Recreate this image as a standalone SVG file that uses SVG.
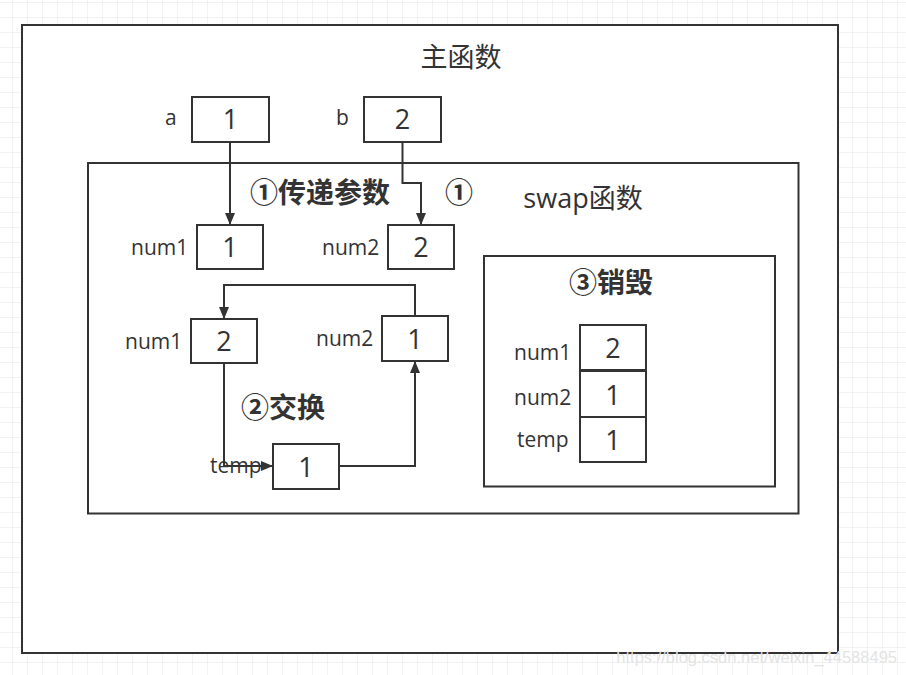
<svg xmlns="http://www.w3.org/2000/svg" width="906" height="675" viewBox="0 0 906 675">
<defs>
<pattern id="grid" x="12" y="2" width="15" height="15" patternUnits="userSpaceOnUse">
<path d="M0 0H15M0 0V15" fill="none" stroke="#e6e6e6" stroke-width="1"/>
</pattern>
<marker id="arr" viewBox="0 0 12 10" refX="11" refY="5" markerWidth="12" markerHeight="10" markerUnits="userSpaceOnUse" orient="auto">
<path d="M0 0L12 5L0 10Z" fill="#333"/>
</marker>
<style>
.box{fill:#fff;stroke:#333;stroke-width:2}
.con{fill:none;stroke:#333;stroke-width:2;marker-end:url(#arr)}
.lbl{font-family:"Open Sans","Noto Sans CJK SC",sans-serif;font-size:21px;fill:#333}
.val{font-family:"Open Sans","Noto Sans CJK SC",sans-serif;font-size:27px;fill:#333;text-anchor:middle}
.title{font-family:"Open Sans","Noto Sans CJK SC",sans-serif;font-size:27px;fill:#333;text-anchor:middle}
.step{font-family:"Noto Sans CJK SC",sans-serif;font-size:28px;font-weight:bold;fill:#333}
</style>
</defs>
<rect width="906" height="675" fill="#fff"/>
<rect width="906" height="675" fill="url(#grid)"/>

<g id="main">
<rect class="box" x="22" y="25" width="816" height="628"/>
<text class="title" x="461" y="67">主函数</text>
</g>
<g id="a">
<text class="lbl" x="165" y="125">a</text>
<rect class="box" x="192" y="97" width="77" height="45"/>
<text class="val" x="230.5" y="129">1</text>
</g>
<g id="b">
<text class="lbl" x="336" y="125">b</text>
<rect class="box" x="364" y="97" width="77" height="45"/>
<text class="val" x="402.5" y="129">2</text>
</g>
<g id="swap">
<rect class="box" x="88" y="163" width="710.5" height="350.5"/>
<text class="title" x="583" y="208">swap函数</text>
<text class="step" x="250" y="203">①传递参数</text>
<text class="step" x="445" y="203">①</text>
<text class="step" x="241" y="418">②交换</text>
</g>
<g id="num1a">
<text class="lbl" x="131" y="255">num1</text>
<rect class="box" x="197" y="225" width="66" height="44"/>
<text class="val" x="230" y="257">1</text>
</g>
<g id="num2a">
<text class="lbl" x="322" y="255">num2</text>
<rect class="box" x="388" y="225" width="66" height="44"/>
<text class="val" x="421" y="257">2</text>
</g>
<g id="num1b">
<text class="lbl" x="125" y="349">num1</text>
<rect class="box" x="191" y="319" width="66" height="44"/>
<text class="val" x="224" y="351">2</text>
</g>
<g id="num2b">
<text class="lbl" x="316" y="346">num2</text>
<rect class="box" x="382" y="316" width="66" height="45"/>
<text class="val" x="415" y="349">1</text>
</g>
<g id="temp">
<rect class="box" x="273" y="444" width="66" height="45"/>
<text class="val" x="306" y="477">1</text>
</g>
<g id="destroy">
<rect class="box" x="484" y="256" width="291" height="230.5"/>
<text class="step" x="569" y="293">③销毁</text>
<text class="lbl" x="514" y="360">num1</text>
<rect class="box" x="580" y="325" width="66" height="45"/>
<text class="val" x="613" y="358">2</text>
<text class="lbl" x="514" y="405">num2</text>
<rect class="box" x="580" y="371" width="66" height="46"/>
<text class="val" x="613" y="405">1</text>
<text class="lbl" x="517" y="447">temp</text>
<rect class="box" x="580" y="417" width="66" height="45"/>
<text class="val" x="613" y="450">1</text>
</g>

<g id="connectors">
<path class="con" d="M230 142V224"/>
<path class="con" d="M402.5 142V183H421V224"/>
<path class="con" d="M415 316V285H224V318"/>
<path class="con" d="M339 466H415V362"/>
<text class="lbl" x="210" y="473">temp</text>
<path class="con" d="M224 363V466H272"/>
</g>

<text x="897" y="663" font-family="Liberation Sans,Arial,sans-serif" font-size="16.5" fill="#e4e4e4" text-anchor="end">https://blog.csdn.net/weixin_44588495</text>
</svg>
